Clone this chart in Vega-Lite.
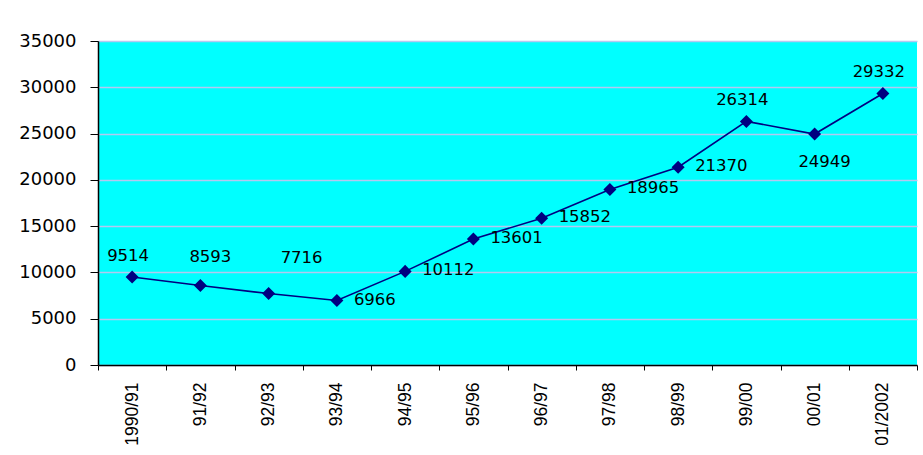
{
  "$schema": "https://vega.github.io/schema/vega-lite/v6.json",
  "autosize": {"type": "none"},
  "width": 819,
  "height": 324,
  "padding": {"left": 98, "top": 41, "right": 6, "bottom": 90},
  "background": "#ffffff",
  "config": {
    "view": {"fill": "#00FFFF", "stroke": null},
    "axis": {"labelFont": "DejaVu Sans", "labelColor": "#000000"}
  },
  "data": {
    "values": [
      {"year": "1990/91", "value": 9514},
      {"year": "91/92", "value": 8593},
      {"year": "92/93", "value": 7716},
      {"year": "93/94", "value": 6966},
      {"year": "94/95", "value": 10112},
      {"year": "95/96", "value": 13601},
      {"year": "96/97", "value": 15852},
      {"year": "97/98", "value": 18965},
      {"year": "98/99", "value": 21370},
      {"year": "99/00", "value": 26314},
      {"year": "00/01", "value": 24949},
      {"year": "01/2002", "value": 29332}
    ]
  },
  "encoding": {
    "x": {
      "field": "year", "type": "ordinal", "sort": null, "bandPosition": 0.5,
      "scale": {"type": "band", "paddingInner": 0, "paddingOuter": 0},
      "axis": {
        "title": null, "labelAngle": -90, "labelAlign": "right", "labelBaseline": "middle",
        "labelFont": "Liberation Sans", "labelFontSize": 17.5, "labelPadding": 12,
        "tickBand": "extent", "tickSize": 5, "tickColor": "#000000",
        "domainColor": "#000000", "domainWidth": 1.5, "grid": false
      }
    },
    "y": {
      "field": "value", "type": "quantitative",
      "scale": {"domain": [0, 35000], "nice": false},
      "axis": {
        "title": null, "values": [0, 5000, 10000, 15000, 20000, 25000, 30000, 35000],
        "format": "d", "labelFontSize": 18, "labelPadding": 14, "tickSize": 8,
        "tickColor": "#000000", "domainColor": "#000000", "domainWidth": 1.5,
        "grid": true, "gridColor": "#B4C8F0", "gridWidth": 1.5, "gridOpacity": 1
      }
    }
  },
  "layer": [
    {"mark": {"type": "line", "color": "#000080", "strokeWidth": 1.6}},
    {"mark": {"type": "point", "shape": "diamond", "filled": true, "color": "#000080", "opacity": 1, "size": 170}},
    {
      "transform": [{"filter": "indexof(['1990/91','99/00','01/2002'], datum.year) >= 0"}],
      "mark": {"type": "text", "font": "DejaVu Sans", "fontSize": 16.5, "color": "#000000", "dx": -4, "dy": -21},
      "encoding": {"text": {"field": "value", "type": "quantitative", "format": "d"}}
    },
    {
      "transform": [{"filter": "datum.year == '91/92'"}],
      "mark": {"type": "text", "font": "DejaVu Sans", "fontSize": 16.5, "color": "#000000", "dx": 10, "dy": -28},
      "encoding": {"text": {"field": "value", "type": "quantitative", "format": "d"}}
    },
    {
      "transform": [{"filter": "datum.year == '92/93'"}],
      "mark": {"type": "text", "font": "DejaVu Sans", "fontSize": 16.5, "color": "#000000", "dx": 33, "dy": -36},
      "encoding": {"text": {"field": "value", "type": "quantitative", "format": "d"}}
    },
    {
      "transform": [{"filter": "indexof(['93/94','94/95','95/96','96/97','97/98','98/99'], datum.year) >= 0"}],
      "mark": {"type": "text", "font": "DejaVu Sans", "fontSize": 16.5, "color": "#000000", "align": "left", "dx": 17, "dy": -1},
      "encoding": {"text": {"field": "value", "type": "quantitative", "format": "d"}}
    },
    {
      "transform": [{"filter": "datum.year == '00/01'"}],
      "mark": {"type": "text", "font": "DejaVu Sans", "fontSize": 16.5, "color": "#000000", "dx": 10, "dy": 28},
      "encoding": {"text": {"field": "value", "type": "quantitative", "format": "d"}}
    }
  ]
}
